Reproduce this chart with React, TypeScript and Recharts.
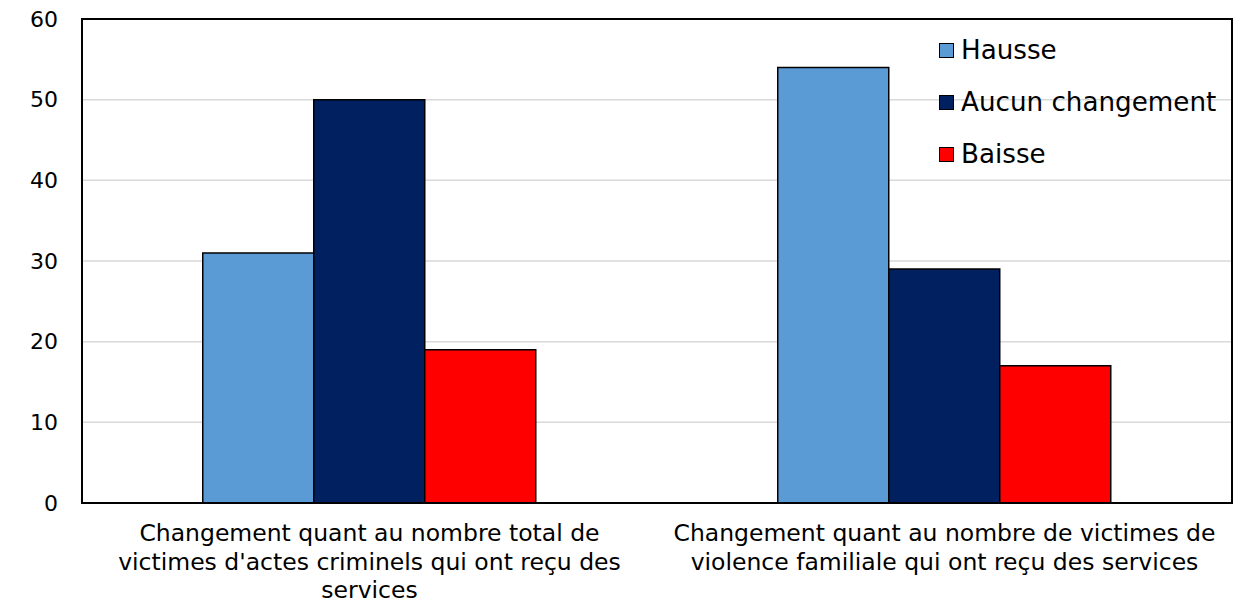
import React from 'react';
import * as R from 'recharts';
import { BarChart, Bar, XAxis, YAxis, CartesianGrid, Legend, Customized } from 'recharts';

const categories = [
  "Changement quant au nombre total de\nvictimes d'actes criminels qui ont reçu des\nservices",
  "Changement quant au nombre de victimes de\nviolence familiale qui ont reçu des services",
];
const hausse = [31, 54];
const aucun = [50, 29];
const baisse = [19, 17];
const yTicks = [0, 10, 20, 30, 40, 50, 60];

const seriesKeys = ['hausse', 'aucun', 'baisse'];
const seriesNames: Record<string, string> = { hausse: 'Hausse', aucun: 'Aucun changement', baisse: 'Baisse' };
const colors: Record<string, string> = { hausse: '#5B9BD5', aucun: '#002060', baisse: '#FF0000' };

const data = categories.map((c, i) => ({
  cat: c,
  hausse: hausse[i],
  aucun: aucun[i],
  baisse: baisse[i],
}));

const FONT = "Verdana, 'DejaVu Sans', sans-serif";

function PlotBorder() {
  const hook = (R as any).usePlotArea;
  const area = hook ? hook() : null;
  if (!area) return null;
  return (
    <rect x={area.x} y={area.y} width={area.width} height={area.height} fill="none" stroke="#000" strokeWidth={2} />
  );
}

const XTick = (props: any) => {
  const { x, y, payload } = props;
  const lines = String(payload.value).split('\n');
  return (
    <text x={x} y={y} textAnchor="middle" fontFamily={FONT} fontSize={23.5} fill="#000">
      {lines.map((l, i) => (
        <tspan key={i} x={x} dy={i === 0 ? 38 : 28.5}>{l}</tspan>
      ))}
    </text>
  );
};

const LegendContent = () => {
  return (
    <div style={{ fontFamily: FONT, fontSize: 26.2, color: '#000', lineHeight: 1 }}>
      {seriesKeys.map((k) => (
        <div key={k} style={{ display: 'flex', alignItems: 'center', height: 52 }}>
          <span style={{ display: 'inline-block', boxSizing: 'border-box', width: 15, height: 15, background: colors[k], border: '1.5px solid #000', marginRight: 7 }} />
          <span style={{ whiteSpace: 'nowrap' }}>{seriesNames[k]}</span>
        </div>
      ))}
    </div>
  );
};

export default function App() {
  return (
    <div style={{ position: 'absolute', left: 0, top: 0, background: '#fff' }}>
      <BarChart
        width={1242}
        height={603}
        data={data}
        margin={{ top: 19, right: 10, left: 0, bottom: 0 }}
        barCategoryGap="21%"
        barGap={0}
      >
        <CartesianGrid horizontal vertical={false} stroke="#d9d9d9" strokeWidth={1.5} />
        <XAxis
          dataKey="cat"
          height={100}
          tickLine={false}
          tickSize={0}
          tickMargin={0}
          axisLine={{ stroke: '#000', strokeWidth: 2 }}
          tick={<XTick />}
          interval={0}
        />
        <YAxis
          width={82}
          domain={[0, 60]}
          ticks={yTicks}
          tickLine={false}
          tickSize={0}
          tickMargin={24}
          axisLine={{ stroke: '#000', strokeWidth: 2 }}
          tick={{ fontFamily: FONT, fontSize: 22, fill: '#000' }}
        />
        <Legend
          layout="horizontal"
          align="center"
          verticalAlign="middle"
          wrapperStyle={{ left: 939, top: 24, right: 'auto', bottom: 'auto', width: 'auto' }}
          content={<LegendContent />}
        />
        {seriesKeys.map((k) => (
          <Bar key={k} dataKey={k} name={seriesNames[k]} fill={colors[k]} stroke="#000" strokeWidth={1.5} isAnimationActive={false} />
        ))}
        <Customized component={<PlotBorder />} />
      </BarChart>
    </div>
  );
}
